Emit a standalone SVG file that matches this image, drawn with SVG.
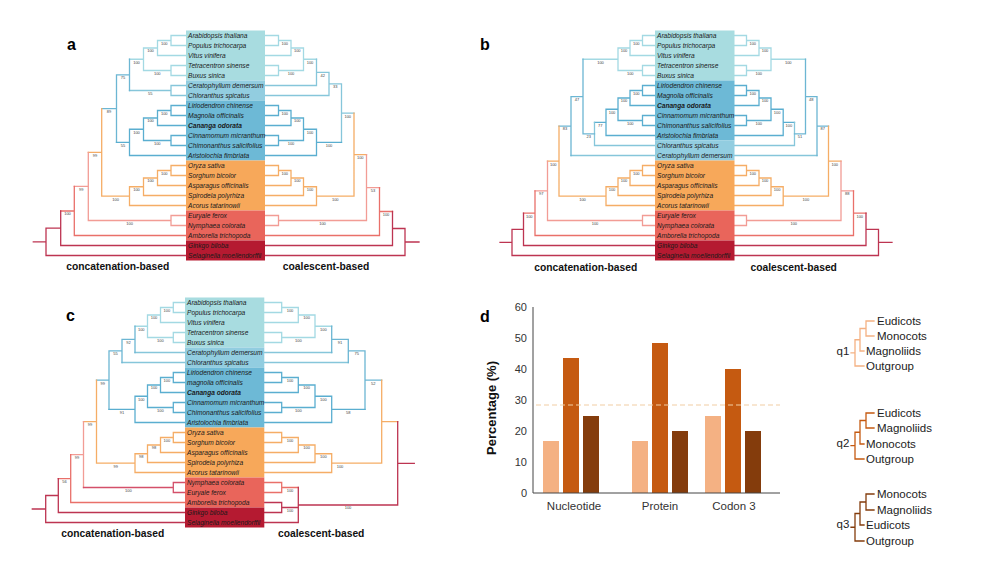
<svg xmlns="http://www.w3.org/2000/svg" width="1000" height="564" viewBox="0 0 1000 564">
<style>
.t{font-family:"Liberation Sans",Arial,sans-serif;font-size:6.6px;font-style:italic;fill:#1a1a1a}
.tb{font-weight:bold}
.bs{font-family:"Liberation Sans",Arial,sans-serif;font-size:4px;fill:#444;text-anchor:middle}
.cap{font-family:"Liberation Sans",Arial,sans-serif;font-size:10.3px;font-weight:bold;fill:#111;text-anchor:middle}
.pl{font-family:"Liberation Sans",Arial,sans-serif;font-size:16px;font-weight:bold;fill:#000}
.ax{font-family:"Liberation Sans",Arial,sans-serif;font-size:11px;fill:#333}
.ql{font-family:"Liberation Sans",Arial,sans-serif;font-size:11.5px;fill:#222}
path{fill:none;stroke-width:1.3;stroke-linecap:square}
.eu{stroke:#a3d9e3}.cc{stroke:#86c6da}.bl{stroke:#6cb6d3}.mg{stroke:#5aaed0}.mo{stroke:#f5ad66}.pk{stroke:#f29c95}.sa{stroke:#e9706a}.cr{stroke:#bd3451}.ro{stroke:#d4506a}
.q1{stroke:#f4b183}.q2{stroke:#c55a11}.q3{stroke:#843c0c}
.f-eu{fill:#a8dce0}.f-cc{fill:#92cde0}.f-mg{fill:#6db9d6}.f-mo{fill:#f7a85a}.f-an{fill:#e9655b}.f-gk{fill:#b51a31}
</style>

<!-- ================= PANEL A ================= -->
<g id="connectors-a">
<g id="tree-a-concat">
<path class="eu" d="M186 35.5H171V45.5H186M171 40.5H157.5V55.5H186M186 65.5H171V75.5H186M157.5 48H143.5V70.5H171M129.5 59.25H143.5"/>
<path class="cc" d="M186 85.5H171V95.5H186M129.5 90.5H171"/>
<path class="bl" d="M129.5 59.25V90.5M116.5 74.9V142.4M116.5 74.9H129.5M101.7 108.6H116.5"/>
<path class="mg" d="M186 105.5H171V115.5H186M171 110.5H157.5V125.5H186M186 135.5H171V145.5H186M157.5 118H143.5V140.5H171M143.5 129.25H129.5V155.5H186M116.5 142.4H129.5"/>
<path class="mo" d="M186 165.5H171V175.5H186M171 170.5H157.5V185.5H186M157.5 178H143.5V195.5H186M143.5 186.75H129.5V205.5H186M101.7 108.6V196.1H129.5M88.3 152.4H101.7"/>
<path class="pk" d="M186 215.5H171V225.5H186M88.3 220.5H171M88.3 152.4V220.5M74.3 186.4H88.3"/>
<path class="sa" d="M74.3 186.4V235.5H186M60.7 211H74.3"/>
<path class="cr" d="M60.7 211V245.5H186M46 228.2H60.7M46 228.2V255.5H186M33.3 241.9H46"/>
</g>
<g id="tree-a-coal">
<path class="eu" d="M265 35.5H278.5V45.5H265M278.5 40.5H291V55.5H265M265 65.5H278.5V75.5H265M291 48H303.5V70.5H278.5M303.5 59.25H316.5"/>
<path class="cc" d="M316.5 59.25V85.5H265M316.5 72.4H329M329 72.4V95.5H265M329 83.9H341.5M341.5 83.9V142.4M341.5 113.2H354"/>
<path class="mg" d="M265 105.5H278.5V115.5H265M278.5 110.5H291V125.5H265M265 135.5H278.5V145.5H265M291 118H303.5V140.5H278.5M303.5 129.25H316.5V155.5H265M316.5 142.4H341.5"/>
<path class="mo" d="M265 165.5H278.5V175.5H265M278.5 170.5H291V185.5H265M291 178H303.5V195.5H265M303.5 186.75H316.5V205.5H265M316.5 196.1H354M354 113.2V196.1M354 154.6H366.5"/>
<path class="pk" d="M265 215.5H278.5V225.5H265M278.5 220.5H366.5M366.5 154.6V220.5M366.5 187.6H379.5"/>
<path class="sa" d="M379.5 187.6V235.5H265M379.5 211.5H392.5"/>
<path class="cr" d="M392.5 211.5V245.5H265M392.5 228.5H405M405 228.5V255.5H265M405 242H419"/>
</g>
<g id="support-a">
<text class="bs" x="164.25" y="44.9">100</text><text class="bs" x="150.5" y="52.4">100</text><text class="bs" x="157.25" y="74.9">100</text><text class="bs" x="136.5" y="63.65">100</text>
<text class="bs" x="150.25" y="94.9">55</text><text class="bs" x="123" y="79.3">75</text>
<text class="bs" x="164.25" y="114.9">100</text><text class="bs" x="150.5" y="122.4">100</text><text class="bs" x="157.25" y="144.9">100</text><text class="bs" x="136.5" y="133.65">100</text>
<text class="bs" x="123" y="146.8">55</text><text class="bs" x="109.1" y="113">89</text>
<text class="bs" x="164.25" y="174.9">100</text><text class="bs" x="150.5" y="182.4">100</text><text class="bs" x="136.5" y="191.15">100</text><text class="bs" x="115.6" y="200.5">100</text>
<text class="bs" x="95" y="156.8">99</text><text class="bs" x="129.65" y="224.9">100</text><text class="bs" x="81.3" y="190.8">99</text><text class="bs" x="67.5" y="215.4">100</text>
<text class="bs" x="284.75" y="44.9">100</text><text class="bs" x="297.25" y="52.4">100</text><text class="bs" x="291" y="74.9">100</text><text class="bs" x="310" y="63.65">100</text>
<text class="bs" x="322.75" y="76.8">42</text><text class="bs" x="335.25" y="88.3">33</text>
<text class="bs" x="284.75" y="114.9">100</text><text class="bs" x="297.25" y="122.4">100</text><text class="bs" x="291" y="144.9">100</text><text class="bs" x="310" y="133.65">100</text>
<text class="bs" x="329" y="146.8">100</text><text class="bs" x="347.75" y="117.6">100</text>
<text class="bs" x="284.75" y="174.9">100</text><text class="bs" x="297.25" y="182.4">100</text><text class="bs" x="310" y="191.15">100</text><text class="bs" x="335.25" y="200.5">100</text>
<text class="bs" x="360.25" y="159">100</text><text class="bs" x="322.5" y="224.9">100</text><text class="bs" x="373" y="192">53</text><text class="bs" x="386" y="215.9">100</text>
</g>
</g>
<g id="taxa-a">
<rect class="f-eu" x="186" y="30.5" width="79" height="50"/>
<rect class="f-cc" x="186" y="80.5" width="79" height="20"/>
<rect class="f-mg" x="186" y="100.5" width="79" height="60"/>
<rect class="f-mo" x="186" y="160.5" width="79" height="50"/>
<rect class="f-an" x="186" y="210.5" width="79" height="30"/>
<rect class="f-gk" x="186" y="240.5" width="79" height="20"/>
<text class="t" id="a-t0" x="188" y="37.8">Arabidopsis thaliana</text>
<text class="t" id="a-t1" x="188" y="47.8">Populus trichocarpa</text>
<text class="t" id="a-t2" x="188" y="57.8">Vitus vinifera</text>
<text class="t" id="a-t3" x="188" y="67.8">Tetracentron sinense</text>
<text class="t" id="a-t4" x="188" y="77.8">Buxus sinica</text>
<text class="t" id="a-t5" x="188" y="87.8">Ceratophyllum demersum</text>
<text class="t" id="a-t6" x="188" y="97.8">Chloranthus spicatus</text>
<text class="t" id="a-t7" x="188" y="107.8">Liriodendron chinense</text>
<text class="t" id="a-t8" x="188" y="117.8">Magnolia officinalis</text>
<text class="t tb" id="a-t9" x="188" y="127.8">Cananga odorata</text>
<text class="t" id="a-t10" x="188" y="137.8">Cinnamomum micranthum</text>
<text class="t" id="a-t11" x="188" y="147.8">Chimonanthus salicifolius</text>
<text class="t" id="a-t12" x="188" y="157.8">Aristolochia fimbriata</text>
<text class="t" id="a-t13" x="188" y="167.8">Oryza sativa</text>
<text class="t" id="a-t14" x="188" y="177.8">Sorghum bicolor</text>
<text class="t" id="a-t15" x="188" y="187.8">Asparagus officinalis</text>
<text class="t" id="a-t16" x="188" y="197.8">Spirodela polyrhiza</text>
<text class="t" id="a-t17" x="188" y="207.8">Acorus tatarinowii</text>
<text class="t" id="a-t18" x="188" y="217.8">Euryale ferox</text>
<text class="t" id="a-t19" x="188" y="227.8">Nymphaea colorata</text>
<text class="t" id="a-t20" x="188" y="237.8">Amborella trichopoda</text>
<text class="t" id="a-t21" x="188" y="247.8">Ginkgo biloba</text>
<text class="t" id="a-t22" x="188" y="257.8">Selaginella moellendorffii</text>
</g>
<g id="labels-a">
<text class="pl" x="67" y="50">a</text>
<text class="cap" x="117.7" y="270.4">concatenation-based</text>
<text class="cap" x="326" y="270.4">coalescent-based</text>
</g>

<!-- ================= PANEL B ================= -->
<g id="connectors-b">
<g id="tree-b-concat">
<path class="eu" d="M655 35.5H642.5V45.5H655M642.5 40.5H630V55.5H655M655 65.5H642.5V75.5H655M630 48H618V70.5H642.5M583 59.25H618"/>
<path class="mg" d="M655 85.5H642.5V95.5H655M642.5 90.5H630V105.5H655M655 115.5H642.5V125.5H655M630 98H618V120.5H642.5M618 109.25H606V135.5H655M594.5 122.4H606"/>
<path class="cc" d="M594.5 122.4V145.5H655M571 155.5H655"/>
<path class="bl" d="M583 133.9H594.5M583 59.25V133.9M571 96.6H583M571 96.6V155.5M559 126.05H571"/>
<path class="mo" d="M655 165.5H642.5V175.5H655M642.5 170.5H630V185.5H655M630 178H618V195.5H655M618 186.75H606V205.5H655M559 196.1H606M559 126.05V196.1M547.5 161.1H559"/>
<path class="pk" d="M655 215.5H642.5V225.5H655M547.5 220.5H642.5M547.5 161.1V220.5M535 190.8H547.5"/>
<path class="sa" d="M535 190.8V235.5H655M523.5 213.15H535"/>
<path class="cr" d="M523.5 213.15V245.5H655M512 229.3H523.5M512 229.3V255.5H655M500 242.4H512"/>
</g>
<g id="tree-b-coal">
<path class="eu" d="M734.5 35.5H746.5V45.5H734.5M746.5 40.5H759V55.5H734.5M734.5 65.5H746.5V75.5H734.5M759 48H771V70.5H746.5M771 59.25H805.5"/>
<path class="mg" d="M734.5 85.5H746.5V95.5H734.5M746.5 90.5H759V105.5H734.5M734.5 115.5H746.5V125.5H734.5M759 98H771V120.5H746.5M771 109.25H783.2V135.5H734.5M783.2 122.4H794.5"/>
<path class="cc" d="M794.5 122.4V145.5H734.5M817 155.5H734.5"/>
<path class="bl" d="M794.5 133.9H805.5M805.5 59.25V133.9M805.5 96.6H817M817 96.6V155.5M817 126.05H828.5"/>
<path class="mo" d="M734.5 165.5H746.5V175.5H734.5M746.5 170.5H759V185.5H734.5M759 178H771V195.5H734.5M771 186.75H783.2V205.5H734.5M783.2 196.1H828.5M828.5 126.05V196.1M828.5 161.1H841"/>
<path class="pk" d="M734.5 215.5H746.5V225.5H734.5M746.5 220.5H841M841 161.1V220.5M841 190.8H853.5"/>
<path class="sa" d="M853.5 190.8V235.5H734.5M853.5 213.15H866"/>
<path class="cr" d="M866 213.15V245.5H734.5M866 229.3H878.5M878.5 229.3V255.5H734.5M878.5 242.4H892"/>
</g>
<g id="support-b">
<text class="bs" x="636.25" y="44.9">100</text><text class="bs" x="624" y="52.4">100</text><text class="bs" x="630.25" y="74.9">100</text><text class="bs" x="600.5" y="63.65">100</text>
<text class="bs" x="636.25" y="94.9">100</text><text class="bs" x="624" y="102.4">100</text><text class="bs" x="630.25" y="124.9">100</text><text class="bs" x="612" y="113.65">100</text>
<text class="bs" x="600.25" y="126.8">77</text><text class="bs" x="588.75" y="138.3">23</text><text class="bs" x="577" y="101">47</text><text class="bs" x="565" y="130.45">83</text>
<text class="bs" x="636.25" y="174.9">100</text><text class="bs" x="624" y="182.4">100</text><text class="bs" x="612" y="191.15">100</text><text class="bs" x="582.5" y="200.5">100</text>
<text class="bs" x="553.25" y="165.5">100</text><text class="bs" x="595" y="224.9">100</text><text class="bs" x="541.25" y="195.2">97</text><text class="bs" x="529.25" y="217.55">100</text>
<text class="bs" x="752.75" y="44.9">100</text><text class="bs" x="765" y="52.4">100</text><text class="bs" x="758.75" y="74.9">100</text><text class="bs" x="788.25" y="63.65">100</text>
<text class="bs" x="752.75" y="94.9">100</text><text class="bs" x="765" y="102.4">100</text><text class="bs" x="758.75" y="124.9">100</text><text class="bs" x="777.1" y="113.65">100</text>
<text class="bs" x="788.85" y="126.8">100</text><text class="bs" x="800" y="138.3">51</text><text class="bs" x="811.25" y="101">48</text><text class="bs" x="822.75" y="130.45">87</text>
<text class="bs" x="752.75" y="174.9">100</text><text class="bs" x="765" y="182.4">100</text><text class="bs" x="777.1" y="191.15">100</text><text class="bs" x="805.85" y="200.5">100</text>
<text class="bs" x="834.75" y="165.5">100</text><text class="bs" x="793.75" y="224.9">100</text><text class="bs" x="847.25" y="195.2">88</text><text class="bs" x="859.75" y="217.55">100</text>
</g>
</g>
<g id="taxa-b">
<rect class="f-eu" x="655" y="30.5" width="79.5" height="50"/>
<rect class="f-mg" x="655" y="80.5" width="79.5" height="60"/>
<rect class="f-cc" x="655" y="140.5" width="79.5" height="20"/>
<rect class="f-mo" x="655" y="160.5" width="79.5" height="50"/>
<rect class="f-an" x="655" y="210.5" width="79.5" height="30"/>
<rect class="f-gk" x="655" y="240.5" width="79.5" height="20"/>
<text class="t" id="b-t0" x="657" y="37.8">Arabidopsis thaliana</text>
<text class="t" id="b-t1" x="657" y="47.8">Populus trichocarpa</text>
<text class="t" id="b-t2" x="657" y="57.8">Vitus vinifera</text>
<text class="t" id="b-t3" x="657" y="67.8">Tetracentron sinense</text>
<text class="t" id="b-t4" x="657" y="77.8">Buxus sinica</text>
<text class="t" id="b-t5" x="657" y="87.8">Liriodendron chinense</text>
<text class="t" id="b-t6" x="657" y="97.8">Magnolia officinalis</text>
<text class="t tb" id="b-t7" x="657" y="107.8">Cananga odorata</text>
<text class="t" id="b-t8" x="657" y="117.8">Cinnamomum micranthum</text>
<text class="t" id="b-t9" x="657" y="127.8">Chimonanthus salicifolius</text>
<text class="t" id="b-t10" x="657" y="137.8">Aristolochia fimbriata</text>
<text class="t" id="b-t11" x="657" y="147.8">Chloranthus spicatus</text>
<text class="t" id="b-t12" x="657" y="157.8">Ceratophyllum demersum</text>
<text class="t" id="b-t13" x="657" y="167.8">Oryza sativa</text>
<text class="t" id="b-t14" x="657" y="177.8">Sorghum bicolor</text>
<text class="t" id="b-t15" x="657" y="187.8">Asparagus officinalis</text>
<text class="t" id="b-t16" x="657" y="197.8">Spirodela polyrhiza</text>
<text class="t" id="b-t17" x="657" y="207.8">Acorus tatarinowii</text>
<text class="t" id="b-t18" x="657" y="217.8">Euryale ferox</text>
<text class="t" id="b-t19" x="657" y="227.8">Nymphaea colorata</text>
<text class="t" id="b-t20" x="657" y="237.8">Amborella trichopoda</text>
<text class="t" id="b-t21" x="657" y="247.8">Ginkgo biloba</text>
<text class="t" id="b-t22" x="657" y="257.8">Selaginella moellendorffii</text>
</g>
<g id="labels-b">
<text class="pl" x="480" y="50">b</text>
<text class="cap" x="585.7" y="271">concatenation-based</text>
<text class="cap" x="793.7" y="271">coalescent-based</text>
</g>

<!-- ================= PANEL C ================= -->
<g id="connectors-c">
<g id="tree-c-concat">
<path class="eu" d="M185 302.5H173.3V312.5H185M173.3 307.5H160.5V322.5H185M185 332.5H173.3V342.5H185M160.5 315H147.5V337.5H173.3M135 326.25H147.5"/>
<path class="cc" d="M135 352.5H185M122 362.5H185"/>
<path class="bl" d="M135 326.25V352.5M122 339.4H135M122 339.4V362.5M109 350.94H122M109 350.94V409.4M96.5 380.16H109"/>
<path class="mg" d="M185 372.5H173.3V382.5H185M173.3 377.5H160.5V392.5H185M185 402.5H173.3V412.5H185M160.5 385H147.5V407.5H173.3M147.5 396.25H135V422.5H185M109 409.4H135"/>
<path class="mo" d="M185 432.5H173.3V442.5H185M173.3 437.5H160.5V452.5H185M160.5 445H147.5V462.5H185M147.5 453.75H135V472.5H185M96.5 463.1H135M96.5 380.16V463.1M83.5 421.64H96.5"/>
<path class="pk" d="M83.5 421.64V487.5M70.7 454.57H83.5"/>
<path class="ro" d="M185 482.5H173.3V492.5H185M83.5 487.5H173.3"/>
<path class="sa" d="M70.7 454.57V502.5H185M58.3 478.53H70.7"/>
<path class="cr" d="M58.3 478.53V512.5H185M45.7 495.5H58.3M45.7 495.5V522.5H185M32.3 509H45.7"/>
</g>
<g id="tree-c-coal">
<path class="eu" d="M264.3 302.5H281.7V312.5H264.3M281.7 307.5H298.3V322.5H264.3M264.3 332.5H281.7V342.5H264.3M298.3 315H315V337.5H281.7M315 326.25H331.7"/>
<path class="cc" d="M331.7 352.5H264.3M348.3 362.5H264.3"/>
<path class="bl" d="M331.7 326.25V352.5M331.7 339.4H348.3M348.3 339.4V362.5M348.3 350.94H365M365 350.94V409.4M365 380.16H381.7"/>
<path class="mg" d="M264.3 372.5H281.7V382.5H264.3M281.7 377.5H298.3V392.5H264.3M264.3 402.5H281.7V412.5H264.3M298.3 385H315V407.5H281.7M315 396.25H331.7V422.5H264.3M331.7 409.4H365"/>
<path class="mo" d="M264.3 432.5H281.7V442.5H264.3M281.7 437.5H298.3V452.5H264.3M298.3 445H315V462.5H264.3M315 453.75H331.7V472.5H264.3M331.7 463.1H381.7M381.7 380.16V463.1M381.7 421.64H397.7"/>
<path class="sa" d="M264.3 482.5H281.7V492.5H264.3M281.7 487.5H298.3"/>
<path class="cr" d="M264.3 502.5H281.7V512.5H264.3M281.7 507.5H298.3M298.3 487.5V522.5H264.3M298.3 505H397.7M397.7 421.64V505M397.7 463.3H414.3"/>
</g>
<g id="support-c">
<text class="bs" x="166.9" y="311.9">100</text><text class="bs" x="154" y="319.4">100</text><text class="bs" x="160.4" y="341.9">100</text><text class="bs" x="141.25" y="330.65">100</text>
<text class="bs" x="128.5" y="343.8">92</text><text class="bs" x="115.5" y="355.35">55</text>
<text class="bs" x="166.9" y="381.9">100</text><text class="bs" x="154" y="389.4">100</text><text class="bs" x="160.4" y="411.9">100</text><text class="bs" x="141.25" y="400.65">100</text>
<text class="bs" x="122" y="413.8">91</text><text class="bs" x="102.75" y="384.56">99</text>
<text class="bs" x="166.9" y="441.9">100</text><text class="bs" x="154" y="449.4">98</text><text class="bs" x="141.25" y="458.15">98</text><text class="bs" x="115.75" y="467.5">99</text>
<text class="bs" x="90" y="426.04">99</text><text class="bs" x="128.4" y="491.9">100</text><text class="bs" x="77.1" y="458.97">99</text><text class="bs" x="64.5" y="482.93">56</text>
<text class="bs" x="290" y="311.9">100</text><text class="bs" x="306.65" y="319.4">100</text><text class="bs" x="298.35" y="341.9">100</text><text class="bs" x="323.35" y="330.65">100</text>
<text class="bs" x="340" y="343.8">91</text><text class="bs" x="356.65" y="355.35">75</text>
<text class="bs" x="290" y="381.9">100</text><text class="bs" x="306.65" y="389.4">100</text><text class="bs" x="298.35" y="411.9">100</text><text class="bs" x="323.35" y="400.65">100</text>
<text class="bs" x="348.35" y="413.8">58</text><text class="bs" x="373.35" y="384.56">52</text>
<text class="bs" x="290" y="441.9">100</text><text class="bs" x="306.65" y="449.4">100</text><text class="bs" x="323.35" y="458.15">100</text><text class="bs" x="340" y="467.5">100</text>
<text class="bs" x="290" y="491.9">100</text><text class="bs" x="290" y="511.9">100</text><text class="bs" x="348" y="509.4">100</text>
</g>
</g>
<g id="taxa-c">
<rect class="f-eu" x="185" y="297.5" width="79.3" height="50"/>
<rect class="f-cc" x="185" y="347.5" width="79.3" height="20"/>
<rect class="f-mg" x="185" y="367.5" width="79.3" height="60"/>
<rect class="f-mo" x="185" y="427.5" width="79.3" height="50"/>
<rect class="f-an" x="185" y="477.5" width="79.3" height="30"/>
<rect class="f-gk" x="185" y="507.5" width="79.3" height="20"/>
<text class="t" id="c-t0" x="187" y="304.8">Arabidopsis thaliana</text>
<text class="t" id="c-t1" x="187" y="314.8">Populus trichocarpa</text>
<text class="t" id="c-t2" x="187" y="324.8">Vitus vinifera</text>
<text class="t" id="c-t3" x="187" y="334.8">Tetracentron sinense</text>
<text class="t" id="c-t4" x="187" y="344.8">Buxus sinica</text>
<text class="t" id="c-t5" x="187" y="354.8">Ceratophyllum demersum</text>
<text class="t" id="c-t6" x="187" y="364.8">Chloranthus spicatus</text>
<text class="t" id="c-t7" x="187" y="374.8">Liriodendron chinense</text>
<text class="t" id="c-t8" x="187" y="384.8">magnolia officinalis</text>
<text class="t tb" id="c-t9" x="187" y="394.8">Cananga odorata</text>
<text class="t" id="c-t10" x="187" y="404.8">Cinnamomum micranthum</text>
<text class="t" id="c-t11" x="187" y="414.8">Chimonanthus salicifolius</text>
<text class="t" id="c-t12" x="187" y="424.8">Aristolochia fimbriata</text>
<text class="t" id="c-t13" x="187" y="434.8">Oryza sativa</text>
<text class="t" id="c-t14" x="187" y="444.8">Sorghum bicolor</text>
<text class="t" id="c-t15" x="187" y="454.8">Asparagus officinalis</text>
<text class="t" id="c-t16" x="187" y="464.8">Spirodela polyrhiza</text>
<text class="t" id="c-t17" x="187" y="474.8">Acorus tatarinowii</text>
<text class="t" id="c-t18" x="187" y="484.8">Nymphaea colorata</text>
<text class="t" id="c-t19" x="187" y="494.8">Euryale ferox</text>
<text class="t" id="c-t20" x="187" y="504.8">Amborella trichopoda</text>
<text class="t" id="c-t21" x="187" y="514.8">Ginkgo biloba</text>
<text class="t" id="c-t22" x="187" y="524.8">Selaginella moellendorffii</text>
</g>
<g id="labels-c">
<text class="pl" x="66" y="321">c</text>
<text class="cap" x="112.8" y="537">concatenation-based</text>
<text class="cap" x="321.2" y="537">coalescent-based</text>
</g>

<!-- ================= PANEL D ================= -->
<g id="chart-d">
<text class="pl" x="480" y="322">d</text>
<text x="0" y="0" transform="translate(496,408) rotate(-90)" text-anchor="middle" style="font-family:'Liberation Sans',Arial,sans-serif;font-size:13px;font-weight:bold;fill:#111">Percentage (%)</text>
<g id="yticks" class="ax" text-anchor="end">
<text x="527" y="311">60</text><text x="527" y="342">50</text><text x="527" y="373">40</text><text x="527" y="404">30</text><text x="527" y="435">20</text><text x="527" y="466">10</text><text x="527" y="497">0</text>
</g>
<g id="bars">
<rect x="543" y="441" width="16" height="52" fill="#f4b183"/>
<rect x="563" y="358" width="16" height="135" fill="#c55a11"/>
<rect x="583" y="416" width="16" height="77" fill="#843c0c"/>
<rect x="632" y="441" width="16" height="52" fill="#f4b183"/>
<rect x="652" y="343" width="16" height="150" fill="#c55a11"/>
<rect x="672" y="431" width="16" height="62" fill="#843c0c"/>
<rect x="705" y="416" width="16" height="77" fill="#f4b183"/>
<rect x="725" y="369" width="16" height="124" fill="#c55a11"/>
<rect x="745" y="431" width="16" height="62" fill="#843c0c"/>
</g>
<line x1="536" y1="405" x2="780" y2="405" stroke="#f2cda4" stroke-width="1.2" stroke-dasharray="5 3"/>
<line x1="533" y1="307" x2="533" y2="493" stroke="#444" stroke-width="1"/>
<line x1="533" y1="493" x2="780" y2="493" stroke="#444" stroke-width="1"/>
<g class="ax" text-anchor="middle" style="font-size:11.5px">
<text x="574" y="510">Nucleotide</text><text x="660" y="510">Protein</text><text x="734" y="510">Codon 3</text>
</g>
</g>
<g id="topologies-d">
<g id="q1">
<path class="q1" d="M874 321H866V336H874M866 328.5H860V351H864M860 339.75H855V366H864M851 352.9H855"/>
<text class="ql" x="843" y="355" text-anchor="middle">q1</text>
<text class="ql" x="877" y="325">Eudicots</text><text class="ql" x="877" y="340">Monocots</text><text class="ql" x="866" y="355">Magnoliids</text><text class="ql" x="866" y="370">Outgroup</text>
</g>
<g id="q2">
<path class="q2" d="M874 413H866V428H874M866 420.5H860V444H864M860 432.25H855V459H864M851 445.6H855"/>
<text class="ql" x="843" y="447" text-anchor="middle">q2</text>
<text class="ql" x="877" y="417">Eudicots</text><text class="ql" x="877" y="432">Magnoliids</text><text class="ql" x="866" y="448">Monocots</text><text class="ql" x="866" y="463">Outgroup</text>
</g>
<g id="q3">
<path class="q3" d="M874 494H866V510H874M866 502H860V525H864M860 513.5H855V541H864M851 527.25H855"/>
<text class="ql" x="843" y="528" text-anchor="middle">q3</text>
<text class="ql" x="877" y="498">Monocots</text><text class="ql" x="877" y="514">Magnoliids</text><text class="ql" x="866" y="529">Eudicots</text><text class="ql" x="866" y="545">Outgroup</text>
</g>
</g>
</svg>
